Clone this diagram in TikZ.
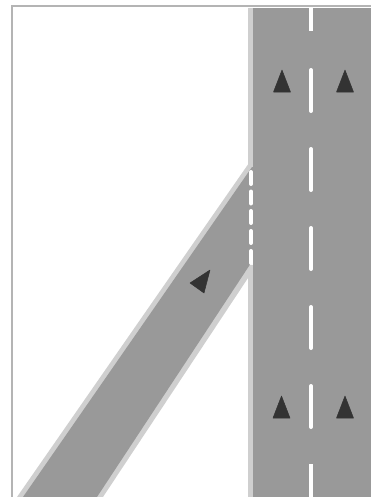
\documentclass[tikz,border=0pt]{standalone}
\usepackage{tikz}
\definecolor{RoadGrey}{HTML}{999999}
\definecolor{EdgeGrey}{HTML}{CFCFCF}
\definecolor{FrameGrey}{HTML}{B4B4B4}
\definecolor{ArrowDark}{HTML}{333333}

\begin{document}
\begin{tikzpicture}[x=0.02cm, y=-0.02cm,
        road/.style={fill=RoadGrey, draw=none},
        edgeline/.style={fill=EdgeGrey, draw=none},
        framing/.style={draw=FrameGrey, line width=0.03cm},
        dashmark/.style={draw=white, line width=0.08cm, line cap=round},
        arrowmark/.style={fill=ArrowDark, draw=ArrowDark, line width=0.01cm, line join=round}]

        \useasboundingbox (0,0) rectangle (371,497);

        % frame
        \draw[framing] (12,497) -- (12,6) -- (371,6);

        % slip road with its two edges
        \fill[edgeline] (249,163) -- (252,163) -- (252,272) -- (103,497) -- (17,497) -- cycle;

        % main road
        \fill[edgeline] (248,8) rectangle (253,167);
        \fill[edgeline] (248,265) rectangle (253,497);
        \fill[road] (252.5,8) rectangle (371,497);
        \fill[road] (254,167) -- (254,263) -- (251,263) -- (97,497) -- (23,497) -- (252,167) -- cycle;

        % centre line
        \draw[dashmark, line cap=butt] (311,8) -- (311,31);
        \foreach \y in {70,149,228,307,386}
            \draw[dashmark] (311,\y) -- (311,\y+41);
        \draw[dashmark, line cap=butt] (311,464) -- (311,497);

        % dashes where the slip road joins
        \foreach \y in {172,191.5,211,231,251}
            \draw[dashmark] (251,\y) -- (251,\y+12);

        % direction arrows
        \foreach \x/\y in {282/70, 345/70, 281.5/396, 345/396}
            \fill[arrowmark] (\x,\y) -- (\x+8.5,\y+22) -- (\x-8.5,\y+22) -- cycle;
        \fill[arrowmark] (210,270) -- (190,283) -- (204,293) -- cycle;
    \end{tikzpicture}
\end{document}
